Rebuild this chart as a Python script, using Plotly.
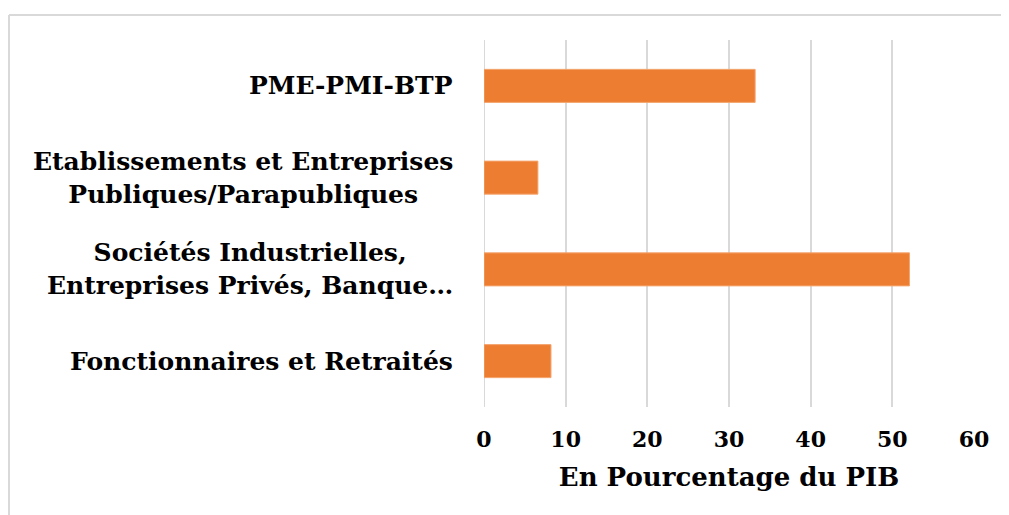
import plotly.graph_objects as go

categories = [
    "PME-PMI-BTP",
    "Etablissements et Entreprises<br>Publiques/Parapubliques",
    "Sociétés Industrielles,<br>Entreprises Privés, Banque…",
    "Fonctionnaires et Retraités",
]
values = [33.2, 6.6, 52.1, 8.2]
x_ticks = [0, 10, 20, 30, 40, 50, 60]
x_title = "En Pourcentage du PIB"

FONT = "DejaVu Serif"
BAR = "#ED7D31"
GRID = "#D9D9D9"

# page has an 8px body margin; figure coordinates are offset accordingly
W, H = 1001, 507
L, R, T, B = 476, 35, 32, 108
pw = W - L - R
ph = H - T - B
frame_x, frame_y = 1, 7

fig = go.Figure()
fig.add_trace(go.Bar(
    x=values, y=categories, orientation="h",
    marker=dict(color=BAR, line=dict(color="#F4A56E", width=1)),
    hoverinfo="x+y",
))

for c in categories:
    fig.add_annotation(
        x=-29 / pw, xref="paper", y=c, yref="y",
        text=c, showarrow=False, xanchor="right", align="center",
        font=dict(family=FONT, size=25, color="#000000", weight="bold"),
    )

fig.update_layout(
    width=W, height=H,
    margin=dict(l=L, r=R, t=T, b=B),
    paper_bgcolor="white", plot_bgcolor="white",
    bargap=0.64, showlegend=False,
    xaxis=dict(
        range=[0, 60], tickvals=x_ticks, showgrid=True, gridcolor=GRID, gridwidth=2,
        zeroline=False, showline=False, ticks="", ticklabelstandoff=17,
        tickfont=dict(family=FONT, size=22, color="#000000", weight="bold"),
        title=dict(text=x_title, standoff=16,
                   font=dict(family=FONT, size=26, color="#000000", weight="bold")),
        fixedrange=True,
    ),
    yaxis=dict(
        autorange="reversed", showticklabels=False, showgrid=False,
        zeroline=False, showline=False, ticks="", fixedrange=True,
    ),
    shapes=[
        dict(type="line", xref="paper", yref="paper",
             x0=(frame_x - L) / pw, x1=(W - L) / pw,
             y0=1 + (T - frame_y) / ph, y1=1 + (T - frame_y) / ph,
             line=dict(color=GRID, width=2)),
        dict(type="line", xref="paper", yref="paper",
             x0=(frame_x - L) / pw, x1=(frame_x - L) / pw,
             y0=1 + (T - frame_y) / ph, y1=-B / ph,
             line=dict(color=GRID, width=2)),
        dict(type="line", xref="x", yref="paper", x0=0, x1=0, y0=0, y1=1,
             line=dict(color=GRID, width=2), layer="below"),
    ],
)

fig.write_html("out.html")
